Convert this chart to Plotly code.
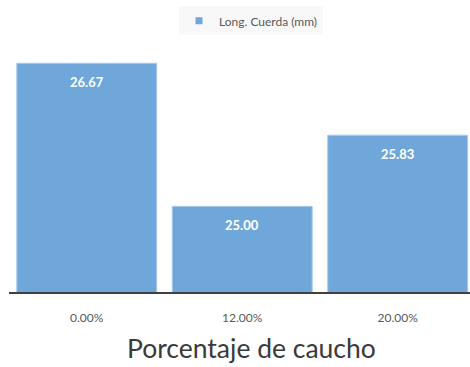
import plotly.graph_objects as go

categories = ["0.00%", "12.00%", "20.00%"]
cuerda_mm = [26.67, 25.00, 25.83]
series_name = "Long. Cuerda (mm)"
x_title = "Porcentaje de caucho"

font_family = "Lato, sans-serif"
bar_color = "#70A7DB"

fig = go.Figure()
fig.add_trace(go.Bar(
    x=categories,
    y=cuerda_mm,
    name=series_name,
    marker=dict(color=bar_color, line=dict(color="#A9CAEA", width=1)),
    showlegend=False,
))
# small square legend key for the series
fig.add_trace(go.Scatter(
    x=[None], y=[None], mode="markers", name=series_name,
    marker=dict(symbol="square", size=7, color=bar_color),
    showlegend=True,
))

# value labels inside the top of each bar
for cat, val in zip(categories, cuerda_mm):
    fig.add_annotation(
        x=cat, y=val, text=f"<b>{val:.2f}</b>",
        showarrow=False, yanchor="top", yshift=-9,
        font=dict(family=font_family, size=13, color="white"),
    )

# category axis title, centred under the chart block
fig.add_annotation(
    xref="paper", yref="paper", x=0.525, y=-0.218,
    xanchor="center", yanchor="middle", showarrow=False,
    text=x_title, font=dict(family=font_family, size=26.5, color="#3A3A3A"),
)

fig.update_layout(
    width=470, height=367,
    margin=dict(l=9, r=0, t=35, b=75),
    paper_bgcolor="white", plot_bgcolor="white",
    bargap=0.1,
    font=dict(family=font_family, color="#595959"),
    legend=dict(
        orientation="h", x=0.525, xanchor="center", y=1.055, yanchor="middle",
        bgcolor="#F8F8F8", font=dict(size=12, color="#595959"),
        itemwidth=30, tracegroupgap=0,
    ),
    xaxis=dict(
        range=[-0.5, 2.465],
        showline=True, linecolor="#404040", linewidth=2,
        ticks="", ticklabelstandoff=14, tickfont=dict(size=12, color="#595959"),
    ),
    yaxis=dict(range=[24, 27], visible=False, showgrid=False),
)

fig.write_html("out.html")
